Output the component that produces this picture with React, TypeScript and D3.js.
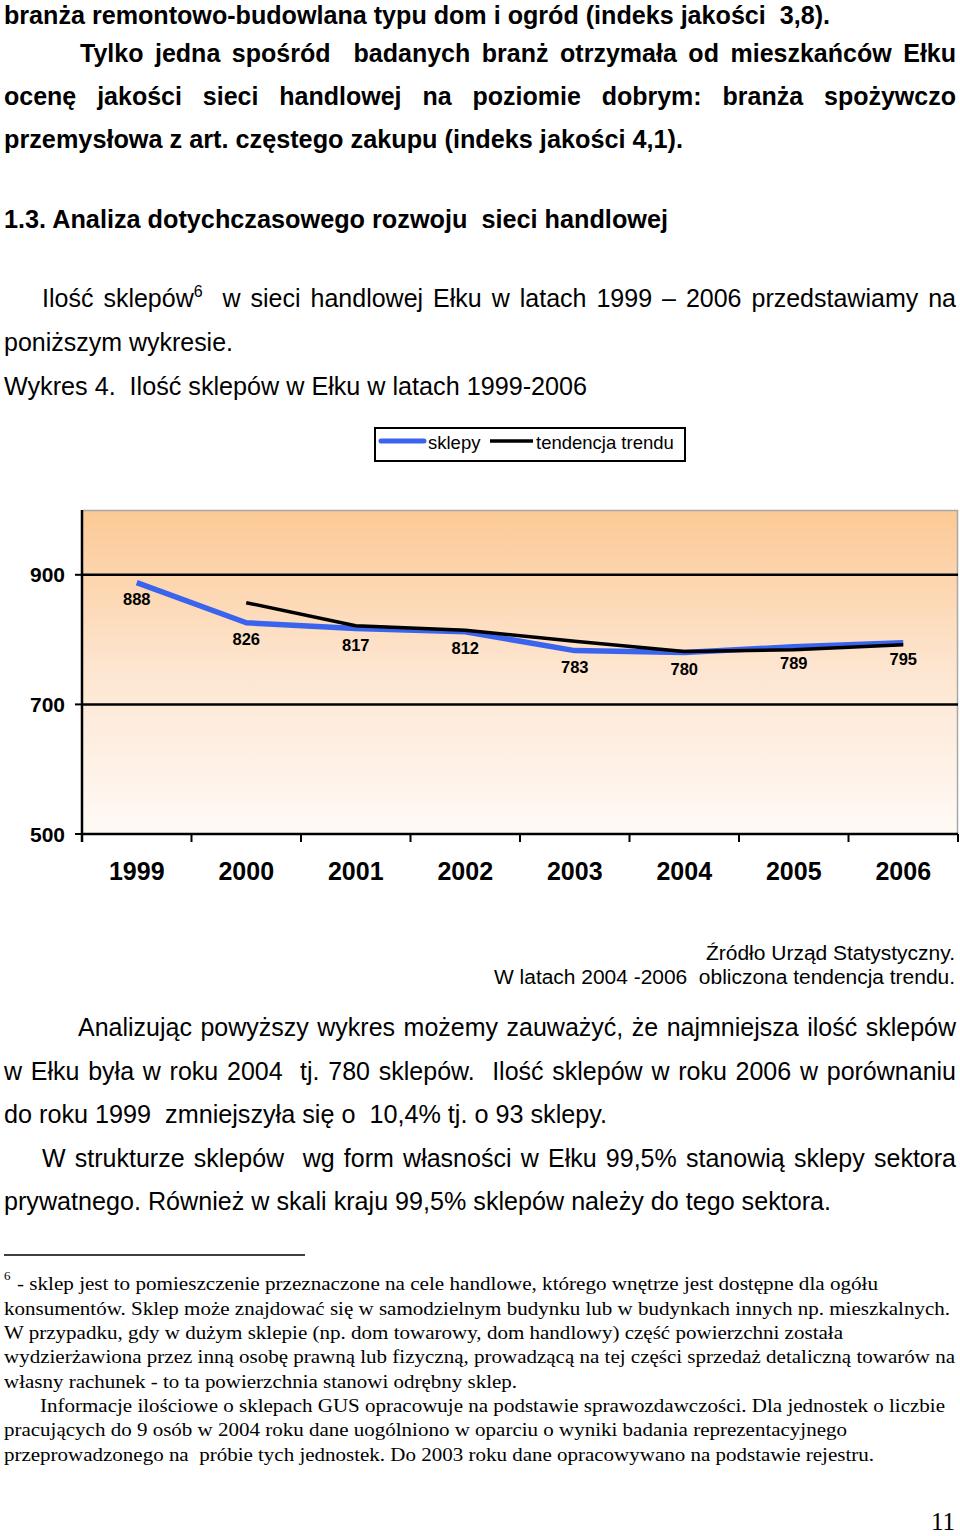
import React from 'react';
import * as d3 from 'd3';

// ---- chart data ----
const years = ['1999', '2000', '2001', '2002', '2003', '2004', '2005', '2006'];
const shops = [888, 826, 817, 812, 783, 780, 789, 795];
const trendYears = ['2000', '2001', '2002', '2003', '2004', '2005', '2006'];
const trendValues = [857, 821.5, 814.5, 797.5, 781.5, 784.5, 792];
const yTicks = [500, 700, 900];
const legendLabels = ['sklepy', 'tendencja trendu'];

// ---- page text ----
const topLines = [
  'branża remontowo-budowlana typu dom i ogród (indeks jakości  3,8).',
  'Tylko jedna spośród  badanych branż otrzymała od mieszkańców Ełku',
  'ocenę jakości sieci handlowej na poziomie dobrym: branża spożywczo',
  'przemysłowa z art. częstego zakupu (indeks jakości 4,1).',
  '1.3. Analiza dotychczasowego rozwoju  sieci handlowej',
  'Ilość sklepów^6  w sieci handlowej Ełku w latach 1999 – 2006 przedstawiamy na',
  'poniższym wykresie.',
  'Wykres 4.  Ilość sklepów w Ełku w latach 1999-2006',
];
const sourceLines = ['Źródło Urząd Statystyczny.', 'W latach 2004 -2006  obliczona tendencja trendu.'];
const paraLines = [
  'Analizując powyższy wykres możemy zauważyć, że najmniejsza ilość sklepów',
  'w Ełku była w roku 2004  tj. 780 sklepów.  Ilość sklepów w roku 2006 w porównaniu',
  'do roku 1999  zmniejszyła się o  10,4% tj. o 93 sklepy.',
  'W strukturze sklepów  wg form własności w Ełku 99,5% stanowią sklepy sektora',
  'prywatnego. Również w skali kraju 99,5% sklepów należy do tego sektora.',
];
const footLines = [
  '- sklep jest to pomieszczenie przeznaczone na cele handlowe, którego wnętrze jest dostępne dla ogółu',
  'konsumentów. Sklep może znajdować się w samodzielnym budynku lub w budynkach innych np. mieszkalnych.',
  'W przypadku, gdy w dużym sklepie (np. dom towarowy, dom handlowy) część powierzchni została',
  'wydzierżawiona przez inną osobę prawną lub fizyczną, prowadzącą na tej części sprzedaż detaliczną towarów na',
  'własny rachunek - to ta powierzchnia stanowi odrębny sklep.',
  'Informacje ilościowe o sklepach GUS opracowuje na podstawie sprawozdawczości. Dla jednostek o liczbie',
  'pracujących do 9 osób w 2004 roku dane uogólniono w oparciu o wyniki badania reprezentacyjnego',
  'przeprowadzonego na  próbie tych jednostek. Do 2003 roku dane opracowywano na podstawie rejestru.',
];

const SANS = '"Liberation Sans", Arial, sans-serif';
const SERIF = '"Liberation Serif", "Times New Roman", serif';

let ctx: CanvasRenderingContext2D | null = null;
function measure(t: string, font: string): number {
  if (!ctx) ctx = document.createElement('canvas').getContext('2d');
  if (!ctx) return t.length * 10;
  ctx.font = font;
  return ctx.measureText(t).width;
}

function PlainLine({ text, x1, x2, y, size, weight = 'normal', family = SANS, anchor = 'start' }: any) {
  return (
    <text
      x={anchor === 'end' ? x2 : x1}
      y={y}
      fontFamily={family}
      fontSize={size}
      fontWeight={weight}
      textAnchor={anchor}
      textLength={x2 - x1}
      lengthAdjust="spacingAndGlyphs"
      style={{ whiteSpace: 'pre' }}
      fill="#000"
    >
      {text}
    </text>
  );
}

function JustLine({ text, x1, x2, y, size, weight = 'normal', family = SANS }: any) {
  const font = `${weight} ${size}px ${family}`;
  const supSize = Math.round(size * 0.62);
  const supFont = `${weight} ${supSize}px ${family}`;
  const tokens = text.split(' ');
  const widths = tokens.map((t: string) => {
    if (t.includes('^')) {
      const [m, s] = t.split('^');
      return measure(m, font) + measure(s, supFont);
    }
    return measure(t, font);
  });
  const total = widths.reduce((a: number, b: number) => a + b, 0);
  const gap = (x2 - x1 - total) / Math.max(1, tokens.length - 1);
  let cx = x1;
  const els: any[] = [];
  tokens.forEach((t: string, i: number) => {
    if (t) {
      if (t.includes('^')) {
        const [m, s] = t.split('^');
        els.push(
          <text key={i} x={cx} y={y} fontFamily={family} fontSize={size} fontWeight={weight} fill="#000">
            {m}
            <tspan fontSize={supSize} dy={-size * 0.42}>{s}</tspan>
          </text>
        );
      } else {
        els.push(
          <text key={i} x={cx} y={y} fontFamily={family} fontSize={size} fontWeight={weight} fill="#000">
            {t}
          </text>
        );
      }
    }
    cx += widths[i] + gap;
  });
  return <g>{els}</g>;
}

export default function App() {
  const left = 82, right = 958, top = 510, bottom = 834;
  const x = d3.scaleBand<string>().domain(years).range([left, right]).padding(0);
  const bw = x.bandwidth();
  const cxOf = (yr: string) => (x(yr) as number) + bw / 2;
  const y = d3.scaleLinear().domain([500, 1000]).range([bottom, top]);
  const line = d3
    .line<[string, number]>()
    .x((d) => cxOf(d[0]))
    .y((d) => y(d[1]));
  const shopPts: [string, number][] = years.map((yr, i) => [yr, shops[i]]);
  const trendPts: [string, number][] = trendYears.map((yr, i) => [yr, trendValues[i]]);
  const boundaries = years.map((yr) => x(yr) as number).concat([right]);

  const topY = [23.5, 62, 105, 148, 228, 307, 351, 395];
  const topX: [number, number, boolean, string][] = [
    [4, 830, false, 'bold'],
    [80, 956, true, 'bold'],
    [4, 956, true, 'bold'],
    [4, 683, false, 'bold'],
    [4, 668, false, 'bold'],
    [42, 956, true, 'normal'],
    [4, 233, false, 'normal'],
    [4, 587, false, 'normal'],
  ];
  const paraY = [1036, 1080, 1123, 1167, 1210];
  const paraX: [number, number, boolean][] = [
    [78, 956, true],
    [4, 956, true],
    [4, 607, false],
    [42, 956, true],
    [4, 831, false],
  ];
  const footY = [1290, 1315, 1339, 1363, 1388, 1412, 1436, 1461];
  const footX: [number, number][] = [
    [17, 878],
    [4, 950],
    [4, 843],
    [4, 955],
    [4, 517],
    [40, 945],
    [4, 847],
    [4, 874],
  ];

  return (
    <svg
      width={960}
      height={1536}
      viewBox="0 0 960 1536"
      style={{ position: 'absolute', left: 0, top: 0, background: '#fff', display: 'block' }}
    >
      <defs>
        <linearGradient id="bg" x1="0" y1="0" x2="0" y2="1">
          <stop offset="0" stopColor="#FCC995" />
          <stop offset="0.5" stopColor="#FDE6D1" />
          <stop offset="1" stopColor="#FFFAF6" />
        </linearGradient>
      </defs>
      <rect x={0} y={0} width={960} height={1536} fill="#fff" />

      {topLines.map((t, i) =>
        topX[i][2] ? (
          <JustLine key={i} text={t} x1={topX[i][0]} x2={topX[i][1]} y={topY[i]} size={25} weight={topX[i][3]} />
        ) : (
          <PlainLine key={i} text={t} x1={topX[i][0]} x2={topX[i][1]} y={topY[i]} size={25} weight={topX[i][3]} />
        )
      )}

      {/* Legend */}
      <rect x={375} y={428} width={310} height={33} fill="#fff" stroke="#000" strokeWidth={2} />
      <line x1={381} x2={424} y1={441} y2={441} stroke="#3A63EE" strokeWidth={5} strokeLinecap="round" />
      <text x={428} y={449} fontFamily={SANS} fontSize={18.5} fill="#000">{legendLabels[0]}</text>
      <line x1={490} x2={533} y1={441} y2={441} stroke="#000" strokeWidth={3.5} />
      <text x={536} y={449} fontFamily={SANS} fontSize={18.5} fill="#000">{legendLabels[1]}</text>

      {/* Plot area */}
      <rect x={left} y={top} width={right - left} height={bottom - top} fill="url(#bg)" />
      <line x1={left} x2={right} y1={top + 0.5} y2={top + 0.5} stroke="#A8A8A8" strokeWidth={1.5} />
      <line x1={right - 0.5} x2={right - 0.5} y1={top} y2={bottom} stroke="#A8A8A8" strokeWidth={1.5} />

      {yTicks.map((v) => (
        <g key={v}>
          <line x1={left} x2={right} y1={y(v)} y2={y(v)} stroke="#000" strokeWidth={2.5} />
          <line x1={75} x2={left} y1={y(v)} y2={y(v)} stroke="#000" strokeWidth={2} />
          <text x={65} y={y(v) + 7.5} textAnchor="end" fontFamily={SANS} fontWeight="bold" fontSize={21} fill="#000">
            {v}
          </text>
        </g>
      ))}
      <line x1={left} x2={left} y1={top} y2={842} stroke="#000" strokeWidth={2.5} />
      {boundaries.map((bx, i) => (
        <line key={i} x1={bx} x2={bx} y1={bottom} y2={842} stroke="#000" strokeWidth={2} />
      ))}
      {years.map((yr) => (
        <text key={yr} x={cxOf(yr)} y={880} textAnchor="middle" fontFamily={SANS} fontWeight="bold" fontSize={25} fill="#000">
          {yr}
        </text>
      ))}

      <path d={line(shopPts) || ''} fill="none" stroke="#3A63EE" strokeWidth={5.5} strokeLinejoin="round" />
      <path d={line(trendPts) || ''} fill="none" stroke="#000" strokeWidth={3.5} strokeLinejoin="round" />

      {shopPts.map(([yr, v]) => (
        <text key={yr} x={cxOf(yr)} y={y(v) + 22} textAnchor="middle" fontFamily={SANS} fontWeight="bold" fontSize={16.5} fill="#000">
          {v}
        </text>
      ))}

      {/* Source */}
      <PlainLine text={sourceLines[0]} x1={706} x2={955} y={960} size={20} anchor="start" />
      <PlainLine text={sourceLines[1]} x1={494} x2={955} y={984} size={20} anchor="start" />

      {paraLines.map((t, i) =>
        paraX[i][2] ? (
          <JustLine key={i} text={t} x1={paraX[i][0]} x2={paraX[i][1]} y={paraY[i]} size={25} />
        ) : (
          <PlainLine key={i} text={t} x1={paraX[i][0]} x2={paraX[i][1]} y={paraY[i]} size={25} />
        )
      )}

      {/* Footnotes */}
      <line x1={4} x2={305} y1={1255} y2={1255} stroke="#000" strokeWidth={1.5} />
      <text x={4} y={1280} fontFamily={SERIF} fontSize={13} fill="#000">6</text>
      {footLines.map((t, i) => (
        <PlainLine key={i} text={t} x1={footX[i][0]} x2={footX[i][1]} y={footY[i]} size={19} family={SERIF} />
      ))}

      <text x={955} y={1530} textAnchor="end" fontFamily={SERIF} fontSize={25} fill="#000">11</text>
    </svg>
  );
}
